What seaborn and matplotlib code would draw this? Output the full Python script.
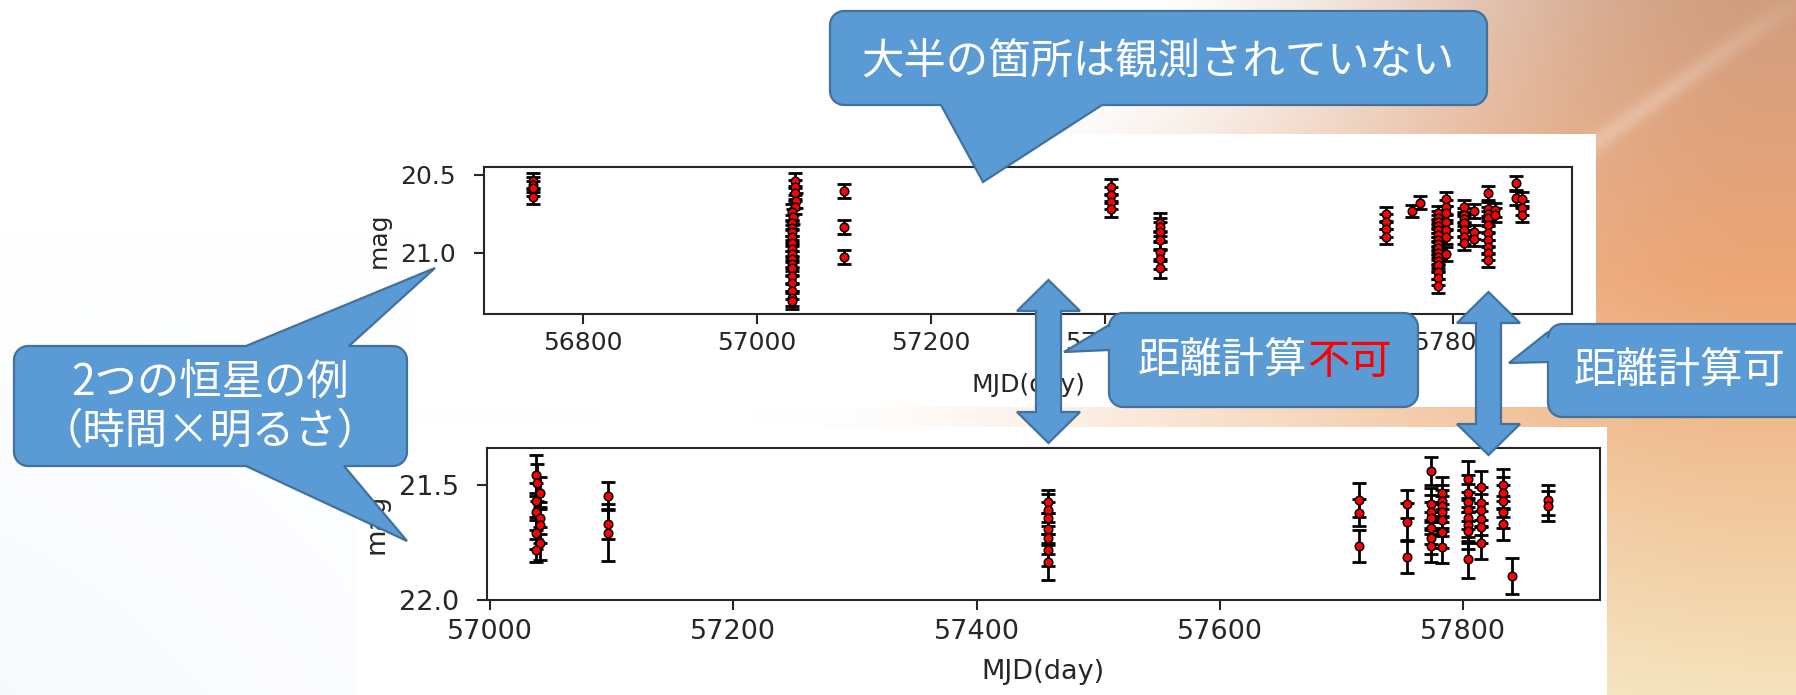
import numpy as np
import pandas as pd
import matplotlib
matplotlib.use('Agg')
import matplotlib.pyplot as plt
from matplotlib.patches import Polygon, Rectangle
import seaborn as sns

# ---- light curve of star 1 (upper panel) ----
top_mjd = [56743, 56743, 56743, 56743,
           57044, 57044, 57044, 57045, 57044, 57040, 57042, 57040, 57040, 57040, 57040,
           57040, 57040, 57040, 57040, 57040, 57040, 57040, 57040, 57040, 57040, 57040,
           57100, 57100, 57100,
           57407, 57407, 57407, 57407,
           57464, 57464, 57464, 57464, 57464, 57464, 57464,
           57723, 57723, 57723, 57723,
           57753, 57762,
           57783, 57783, 57783, 57783, 57783, 57783, 57783, 57783, 57783, 57783, 57783,
           57783, 57783, 57783, 57783, 57783,
           57792, 57792, 57792, 57792, 57792, 57792, 57792,
           57813, 57813, 57813, 57813, 57813, 57813, 57813,
           57824, 57824, 57824,
           57841, 57841, 57841, 57841, 57841, 57841, 57841, 57841, 57841, 57841,
           57849, 57849,
           57873, 57873,
           57880, 57880, 57880]
top_mag = [20.537, 20.562, 20.586, 20.640,
           20.537, 20.580, 20.618, 20.665, 20.704, 20.740, 20.768, 20.807, 20.843, 20.870, 20.897,
           20.940, 20.978, 21.010, 21.039, 21.070, 21.100, 21.150, 21.193, 21.245, 21.294, 21.310,
           20.603, 20.833, 21.026,
           20.579, 20.629, 20.672, 20.719,
           20.807, 20.835, 20.865, 20.918, 20.994, 21.043, 21.100,
           20.753, 20.800, 20.847, 20.897,
           20.732, 20.678,
           20.747, 20.775, 20.800, 20.827, 20.854, 20.885, 20.918, 20.945, 20.972, 21.000, 21.026,
           21.052, 21.079, 21.122, 21.165, 21.214,
           20.654, 20.704, 20.747, 20.800, 20.854, 20.901, 21.010,
           20.704, 20.757, 20.785, 20.811, 20.854, 20.897, 20.936,
           20.732, 20.865, 20.914,
           20.618, 20.721, 20.750, 20.779, 20.822, 20.871, 20.918, 20.965, 21.004, 21.047,
           20.725, 20.757,
           20.553, 20.650,
           20.654, 20.710, 20.757]
top_err = ([0.05] * 4 + [0.05] * 22 + [0.045] * 3 + [0.05] * 4 + [0.06] * 7 + [0.05] * 4
           + [0.04] * 2 + [0.045] * 16 + [0.045] * 7 + [0.045] * 7 + [0.045] * 3
           + [0.045] * 10 + [0.045] * 2 + [0.045] * 2 + [0.045] * 3)

# ---- light curve of star 2 (lower panel) ----
bot_mjd = [57037.5, 57039, 57041, 57037.5, 57037.5, 57041, 57041, 57037.5, 57041, 57037.5,
           57097, 57097, 57097,
           57459, 57459, 57459, 57459, 57459, 57459, 57459,
           57714.5, 57714.5, 57714.5,
           57753.4, 57753.4, 57753.4,
           57773.4, 57773.4, 57773.4, 57773.4, 57773.4, 57773.4, 57773.4,
           57782.2, 57782.2, 57782.2, 57782.2, 57782.2, 57782.2, 57782.2,
           57804, 57804, 57804, 57804, 57804, 57804, 57804, 57804,
           57814.5, 57814.5, 57814.5, 57814.5, 57814.5, 57814.5,
           57832.8, 57832.8, 57832.8, 57832.8, 57832.8,
           57839.7,
           57869.8, 57869.8]
bot_mag = [21.457, 21.490, 21.536, 21.570, 21.616, 21.645, 21.674, 21.707, 21.754, 21.783,
           21.548, 21.671, 21.707,
           21.572, 21.609, 21.645, 21.690, 21.732, 21.783, 21.833,
           21.565, 21.620, 21.765,
           21.583, 21.660, 21.814,
           21.438, 21.583, 21.615, 21.645, 21.688, 21.732, 21.765,
           21.536, 21.568, 21.590, 21.616, 21.652, 21.703, 21.771,
           21.475, 21.536, 21.575, 21.609, 21.645, 21.674, 21.699, 21.823,
           21.510, 21.580, 21.609, 21.649, 21.681, 21.751,
           21.500, 21.536, 21.568, 21.616, 21.670,
           21.896,
           21.565, 21.591]
bot_err = ([0.09, 0.08, 0.07, 0.08, 0.08, 0.07, 0.08, 0.07, 0.07, 0.05]
           + [0.062, 0.065, 0.125]
           + [0.05, 0.07, 0.07, 0.07, 0.07, 0.07, 0.08]
           + [0.072, 0.06, 0.068]
           + [0.06, 0.08, 0.07]
           + [0.06] + [0.07] * 6
           + [0.07] * 7
           + [0.08] * 8
           + [0.07] * 6
           + [0.07] * 5
           + [0.08]
           + [0.065, 0.065])

top_df = pd.DataFrame({'MJD': top_mjd, 'mag': top_mag, 'err': top_err})
bot_df = pd.DataFrame({'MJD': bot_mjd, 'mag': bot_mag, 'err': bot_err})

sns.set_style('ticks')
plt.rcParams['font.family'] = ['DejaVu Sans', 'Noto Sans CJK JP']
JP = ['Noto Sans CJK JP', 'DejaVu Sans']

W, H = 1796, 695
fig = plt.figure(figsize=(W / 100, H / 100), dpi=100)

# ---- slide background ----
bg = fig.add_axes([0, 0, 1, 1], zorder=0)
u = np.linspace(0, 1, W)[None, :]
v = np.linspace(0, 1, H)[:, None]
start = 0.62 - 0.2 * np.clip(v * 2, 0, 1)
t = np.clip((u - start) / (0.98 - start), 0, 1)
t = t * t * (3 - 2 * t)
top_c = np.array([0.82, 0.62, 0.50])
mid_c = np.array([0.93, 0.65, 0.46])
low_c = np.array([0.96, 0.89, 0.74])
k1 = np.clip(v / 0.4, 0, 1)[..., None]
k2 = np.clip((v - 0.4) / 0.6, 0, 1)[..., None]
right_c = np.where(v[..., None] < 0.4, top_c * (1 - k1) + mid_c * k1, mid_c * (1 - k2) + low_c * k2)
img = (1 - t[..., None]) * np.array([1.0, 1.0, 1.0]) + t[..., None] * right_c
# faint grey-blue tint bottom-left
img = img - (0.03 * np.clip(1 - u * 3, 0, 1) * np.clip(v * 1.5 - 0.5, 0, 1))[..., None] * np.array([1, 0.8, 0.3])
# light streak top right
xx = u * W
yy = v * H
d = np.abs((yy - 0) * 179 + (xx - 1796) * 128) / np.hypot(179, 128)
streak = np.exp(-(d / 10) ** 2) * np.clip((yy + 10) / 200, 0, 1) * np.clip(1 - yy / 250, 0, 1)
img = img + streak[..., None] * (1 - img) * 0.7
bg.imshow(np.clip(img, 0, 1), extent=[0, W, H, 0], aspect='auto')
bg.set_xlim(0, W)
bg.set_ylim(H, 0)
bg.axis('off')
bg.add_patch(Rectangle((412, 134), 1596 - 412, 407 - 134, facecolor='white', edgecolor='none'))
bg.add_patch(Rectangle((355, 427), 1607 - 355, H - 427, facecolor='white', edgecolor='none'))


def light_curve(ax, df, fsize, xpad, xlpad):
    ax.errorbar(df['MJD'], df['mag'], yerr=df['err'], fmt='none', ecolor='black',
                elinewidth=2.0, capsize=5, capthick=2.0, zorder=2)
    sns.scatterplot(data=df, x='MJD', y='mag', ax=ax, color='red', edgecolor='black',
                    linewidth=1.1, s=38, zorder=3)
    ax.set_xlabel('MJD(day)', fontsize=fsize, labelpad=xlpad)
    ax.set_ylabel('mag', fontsize=fsize, labelpad=7)
    ax.tick_params(labelsize=fsize, length=7, width=1.5)
    ax.tick_params(axis='x', pad=xpad)
    ax.tick_params(axis='y', pad=13)
    for s in ax.spines.values():
        s.set_linewidth(1.5)


ax1 = fig.add_axes([484 / W, 1 - 314 / H, 1088 / W, 147.3 / H], zorder=1)
light_curve(ax1, top_df, 18, 5, 13)
ax1.set_xlim(56686.6, 57937)
ax1.set_ylim(21.394, 20.447)
ax1.set_xticks([56800, 57000, 57200, 57400, 57600, 57800])
ax1.set_yticks([20.5, 21.0])

ax2 = fig.add_axes([486.7 / W, 1 - 600 / H, 1113.3 / W, 151.7 / H], zorder=1)
light_curve(ax2, bot_df, 19.5, 7, 10)
ax2.set_xlim(56997.3, 57912.3)
ax2.set_ylim(22.0, 21.34)
ax2.set_xticks([57000, 57200, 57400, 57600, 57800])
ax2.set_yticks([21.5, 22.0])

# ---- callouts / arrows overlay ----
ov = fig.add_axes([0, 0, 1, 1], zorder=5)
ov.set_xlim(0, W)
ov.set_ylim(H, 0)
ov.axis('off')
ov.patch.set_visible(False)

FILL = '#5B9BD5'
EDGE = '#41719C'


def callout(x0, y0, x1, y1, pointers, r=14):
    pts = []

    def arc(cx, cy, a0, a1):
        for a in np.radians(np.linspace(a0, a1, 10)):
            pts.append((cx + r * np.cos(a), cy + r * np.sin(a)))

    arc(x0 + r, y0 + r, 180, 270)
    for side, a, b, tip in pointers:
        if side == 'top':
            pts.extend([(a, y0), tip, (b, y0)])
    arc(x1 - r, y0 + r, 270, 360)
    for side, a, b, tip in pointers:
        if side == 'right':
            pts.extend([(x1, a), tip, (x1, b)])
    arc(x1 - r, y1 - r, 0, 90)
    for side, a, b, tip in pointers:
        if side == 'bottom':
            pts.extend([(b, y1), tip, (a, y1)])
    arc(x0 + r, y1 - r, 90, 180)
    for side, a, b, tip in pointers:
        if side == 'left':
            pts.extend([(x0, b), tip, (x0, a)])
    ov.add_patch(Polygon(pts, closed=True, facecolor=FILL, edgecolor=EDGE, linewidth=1.6))


def double_arrow(cx, yt, yb, sw=25, hw=63, hl=31):
    pts = [(cx, yt), (cx + hw / 2, yt + hl), (cx + sw / 2, yt + hl), (cx + sw / 2, yb - hl),
           (cx + hw / 2, yb - hl), (cx, yb), (cx - hw / 2, yb - hl), (cx - sw / 2, yb - hl),
           (cx - sw / 2, yt + hl), (cx - hw / 2, yt + hl)]
    ov.add_patch(Polygon(pts, closed=True, facecolor=FILL, edgecolor=EDGE, linewidth=1.6))


callout(830, 11, 1487, 105, [('bottom', 941, 1102, (983, 182))])
callout(14, 346, 407, 466, [('top', 246, 349, (435, 268)), ('bottom', 246, 344, (407, 541))])
double_arrow(1048.5, 280, 443)
double_arrow(1488.5, 292, 455)
callout(1109, 313, 1418, 407, [('left', 325, 350, (1064, 352))])
callout(1548, 324, 1830, 417, [('left', 332, 362, (1509, 363))])

fs = 30.5
ov.text(1158, 62, '大半の箇所は観測されていない', color='white', fontsize=fs, family=JP,
        ha='center', va='center')
ov.text(210, 384, '2つの恒星の例', color='white', fontsize=fs, family=JP, ha='center', va='center')
ov.text(210, 432, '（時間×明るさ）', color='white', fontsize=fs, family=JP, ha='center', va='center')
ov.text(1307, 362, '距離計算', color='white', fontsize=fs, family=JP, ha='right', va='center')
ov.text(1307, 362, '不可', color='#FF0000', fontsize=fs, family=JP, ha='left', va='center')
ov.text(1574, 372, '距離計算可', color='white', fontsize=fs, family=JP, ha='left', va='center')

fig.savefig('out.png', dpi=100)
